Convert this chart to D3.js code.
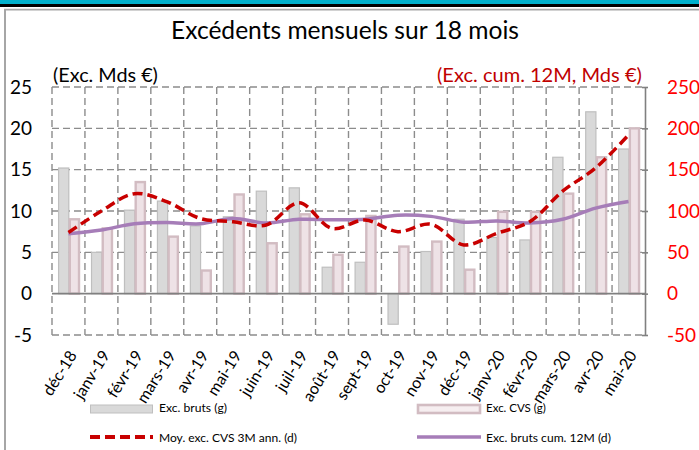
<!DOCTYPE html>
<html>
<head>
<meta charset="utf-8">
<script src="https://cdn.jsdelivr.net/npm/d3@7"></script>
<style>
  body { margin: 0; background: #fff; }
  svg { display: block; font-family: Lato, "Open Sans", sans-serif; }
</style>
</head>
<body>
<svg id="chart" width="699" height="450"></svg>
<script>
// Monthly surpluses, Mds €
const months = ["déc-18","janv-19","févr-19","mars-19","avr-19","mai-19","juin-19","juil-19",
  "août-19","sept-19","oct-19","nov-19","déc-19","janv-20","févr-20","mars-20","avr-20","mai-20"];
// Raw monthly surplus (left axis)
const brut = [15.2, 5.0, 10.1, 11.2, 8.2, 9.3, 12.4, 12.8, 3.2, 3.8, -3.7, 5.1, 9.0, 6.8, 6.5, 16.5, 22.0, 17.5];
// Seasonally adjusted monthly surplus (left axis)
const cvs = [9.0, 7.9, 13.5, 6.9, 2.8, 12.0, 6.1, 9.6, 4.7, 9.4, 5.7, 6.3, 2.9, 9.9, 9.9, 12.1, 16.5, 20.0];
// 3-month average of SA surplus, annualised (right axis)
const moy3m = [74, 100, 121, 111, 91, 87, 83, 110, 79, 89, 75, 84, 59, 73, 87, 124, 152, 192];
// 12-month cumulated raw surplus (right axis)
const cum12m = [72.5, 77, 84.5, 86, 84.5, 91, 85.5, 90, 89.5, 90, 95, 93.5, 86.5, 88, 85.5, 90, 103.5, 111.5];

const leftTicks = [-5, 0, 5, 10, 15, 20, 25];
const rightTicks = [-50, 0, 50, 100, 150, 200, 250];

const titleText = "Excédents mensuels sur 18 mois";
const leftUnit = "(Exc. Mds €)";
const rightUnit = "(Exc. cum. 12M, Mds €)";
const legendLabels = ["Exc. bruts (g)", "Exc. CVS (g)", "Moy. exc. CVS 3M ann. (d)", "Exc. bruts cum. 12M (d)"];

const svg = d3.select("#chart");

// scale a text's font size so that it spans the given width
function fit(sel, width) {
  const node = sel.node();
  const fs = parseFloat(sel.attr("font-size"));
  const w = node.getComputedTextLength();
  sel.attr("font-size", (fs * width / w).toFixed(2));
  return sel;
}

// page frame
svg.append("rect").attr("x", 0).attr("y", 0).attr("width", 699).attr("height", 4).attr("fill", "#00b0cc");
svg.append("rect").attr("x", 0).attr("y", 4).attr("width", 699).attr("height", 3).attr("fill", "#000");
svg.append("line").attr("x1", 4).attr("x2", 699).attr("y1", 9.6).attr("y2", 9.6).attr("stroke", "#a6a6a6").attr("stroke-width", 1.6);
svg.append("line").attr("x1", 5).attr("x2", 5).attr("y1", 9).attr("y2", 450).attr("stroke", "#a6a6a6").attr("stroke-width", 2);

const L = 52, R = 645, T = 87, B = 335;

const x = d3.scaleBand().domain(months).range([L, R]).padding(0);
const bw = x.bandwidth();
const xs = d3.scaleBand().domain(["brut", "cvs"]).range([bw * 0.2, bw * 0.82]).padding(0);
const yL = d3.scaleLinear().domain([-5, 25]).range([B, T]);
const yR = d3.scaleLinear().domain([-50, 250]).range([B, T]);

// grid
const grid = svg.append("g").attr("stroke", "#8c8c8c").attr("stroke-width", 1.4).attr("stroke-dasharray", "7,4");
grid.selectAll("line.h").data(leftTicks.filter(d => d !== 0)).join("line")
  .attr("x1", L).attr("x2", R).attr("y1", d => yL(d)).attr("y2", d => yL(d));
grid.selectAll("line.v").data(months).join("line")
  .attr("x1", d => x(d)).attr("x2", d => x(d)).attr("y1", T).attr("y2", B);

// bars
svg.append("g").selectAll("rect").data(months).join("rect")
  .attr("x", d => x(d) + xs("brut"))
  .attr("width", xs.bandwidth())
  .attr("y", (d, i) => yL(Math.max(0, brut[i])))
  .attr("height", (d, i) => Math.abs(yL(brut[i]) - yL(0)))
  .attr("fill", "#d9d9d9").attr("stroke", "#bfbfbf").attr("stroke-width", 1.2);

svg.append("g").selectAll("rect").data(months).join("rect")
  .attr("x", d => x(d) + xs("cvs") + 1)
  .attr("width", xs.bandwidth() - 1)
  .attr("y", (d, i) => yL(Math.max(0, cvs[i])))
  .attr("height", (d, i) => Math.abs(yL(cvs[i]) - yL(0)))
  .attr("fill", "#eee2e6").attr("stroke", "#d2bcc2").attr("stroke-width", 2.4);

// zero line
svg.append("line").attr("x1", L).attr("x2", R).attr("y1", yL(0)).attr("y2", yL(0))
  .attr("stroke", "#808080").attr("stroke-width", 1.6);

// tick labels use a plain hyphen for negatives
const fmt = d => String(d);

// right axis
const axR = svg.append("g").attr("transform", `translate(${R},0)`)
  .call(d3.axisRight(yR).tickValues(rightTicks).tickSizeInner(3).tickSizeOuter(0).tickPadding(19).tickFormat(fmt));
axR.select(".domain").attr("stroke", "#808080").attr("stroke-width", 1.6);
axR.selectAll(".tick line").attr("stroke", "#808080").attr("stroke-width", 1.6).attr("x1", -3);
axR.selectAll(".tick text").attr("fill", "#ff0000").attr("font-size", 19).attr("font-family", "Lato, sans-serif");

// left axis labels
const axL = svg.append("g").attr("transform", `translate(${L},0)`)
  .call(d3.axisLeft(yL).tickValues(leftTicks).tickSize(0).tickPadding(20).tickFormat(fmt));
axL.select(".domain").remove();
axL.selectAll(".tick text").attr("fill", "#000").attr("font-size", 19).attr("font-family", "Lato, sans-serif");

// lines
const cx = d => x(d) + bw / 2;
const curve = d3.curveCatmullRom.alpha(0.5);
svg.append("path").datum(months)
  .attr("d", d3.line().x(cx).y((d, i) => yR(cum12m[i])).curve(curve))
  .attr("fill", "none").attr("stroke", "#a67db8").attr("stroke-width", 3.5).attr("stroke-linejoin", "round");
svg.append("path").datum(months)
  .attr("d", d3.line().x(cx).y((d, i) => yR(moy3m[i])).curve(curve))
  .attr("fill", "none").attr("stroke", "#c80000").attr("stroke-width", 3.5).attr("stroke-dasharray", "10,5");

// category labels
svg.append("g").selectAll("text").data(months).join("text")
  .attr("transform", d => `translate(${cx(d) + 9},${355}) rotate(-58)`)
  .attr("text-anchor", "end").attr("font-size", 16).attr("fill", "#000")
  .text(d => d);

// title and units
fit(svg.append("text").attr("x", 171).attr("y", 38.5).attr("font-size", 24).attr("fill", "#000").text(titleText), 348);
fit(svg.append("text").attr("x", 53).attr("y", 82).attr("font-size", 19).attr("fill", "#000").text(leftUnit), 105);
const ru = svg.append("text").attr("x", 437).attr("y", 82).attr("font-size", 19).attr("fill", "#c00000").text(rightUnit);
fit(ru, 205);

// legend
const lg = svg.append("g");
lg.append("rect").attr("x", 90.5).attr("y", 405).attr("width", 62).attr("height", 8)
  .attr("fill", "#d9d9d9").attr("stroke", "#bfbfbf").attr("stroke-width", 1);
lg.append("rect").attr("x", 418).attr("y", 405).attr("width", 62).attr("height", 8)
  .attr("fill", "#f6eef0").attr("stroke", "#d2bcc2").attr("stroke-width", 2.6);
lg.append("line").attr("x1", 90).attr("x2", 153).attr("y1", 437).attr("y2", 437)
  .attr("stroke", "#c80000").attr("stroke-width", 4).attr("stroke-dasharray", "10,5");
lg.append("line").attr("x1", 417).attr("x2", 481).attr("y1", 437).attr("y2", 437)
  .attr("stroke", "#a67db8").attr("stroke-width", 3.5);
const legPos = [[159, 412], [486, 412], [159, 442], [486, 442]];
const legW = [68, 60, 138, 125];
legendLabels.forEach((t, i) => {
  fit(lg.append("text").attr("x", legPos[i][0]).attr("y", legPos[i][1]).attr("font-size", 12).attr("fill", "#000").text(t), legW[i]);
});
</script>
</body>
</html>
